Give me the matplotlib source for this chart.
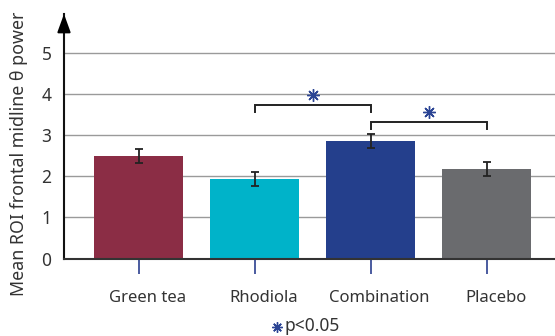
import matplotlib
matplotlib.use("Agg")
import matplotlib.pyplot as plt
import matplotlib.transforms as mtransforms
import numpy as np

# Group means and error bars
groups = ["Green tea", "Rhodiola", "Combination", "Placebo"]
means = [2.50, 1.94, 2.86, 2.18]
errors = [0.18, 0.18, 0.17, 0.17]
colors = ["#8b2d45", "#00b3c9", "#243f8c", "#6a6b6e"]

# Significant pairwise comparisons (index pairs) and bracket heights
sig_pairs = [(1, 2), (2, 3)]
sig_heights = [3.74, 3.32]

y_ticks = [0, 1, 2, 3, 4, 5]
ylabel = "Mean ROI frontal midline θ power"
star_color = "#2b4494"

plt.rcParams["font.family"] = ["Noto Sans", "DejaVu Sans"]

fig = plt.figure(figsize=(5.55, 3.36), dpi=100)
W, H = 555, 336
left, right, bottom, top = 64, 555, 258.5, 14
ax = fig.add_axes([left / W, 1 - bottom / H, (right - left) / W, (bottom - top) / H])

x = np.arange(len(groups))
ax.bar(x, means, width=0.77, color=colors, zorder=2)
ax.errorbar(x, means, yerr=errors, fmt="none", ecolor="#222222",
            elinewidth=1.3, capsize=3, capthick=1.3, zorder=3)

ax.set_xlim(-0.645, 3.59)
ax.set_ylim(0, 5.96)
ax.set_yticks(y_ticks)
ax.yaxis.grid(True, color="#9a9a9a", linewidth=1.0, zorder=0)
ax.set_axisbelow(True)

for s in ["top", "right"]:
    ax.spines[s].set_visible(False)
ax.spines["left"].set_linewidth(1.5)
ax.spines["bottom"].set_linewidth(1.5)
ax.spines["bottom"].set_color("#333333")
ax.spines["left"].set_color("#111111")

ax.tick_params(axis="y", length=0, pad=9, labelsize=12.5, labelcolor="#333333")
ax.tick_params(axis="x", direction="out", length=11, width=1.2, color="#2b3f8f",
               pad=12, labelsize=12, labelcolor="#333333")
ax.set_xticks(x)
ax.set_xticklabels(groups)
offset = mtransforms.ScaledTranslation(9 / 100, 0, fig.dpi_scale_trans)
for lbl in ax.get_xticklabels():
    lbl.set_transform(lbl.get_transform() + offset)

# Axis title, placed in figure pixels
fig.text(19 / W, 1 - 153.5 / H, ylabel, fontsize=12.8, color="#333333",
         rotation=90, ha="center", va="center")

# Arrowhead on top of the y axis
ax.annotate("", xy=(0, 1.0), xycoords="axes fraction",
            xytext=(0, 0.93), textcoords="axes fraction",
            arrowprops=dict(arrowstyle="-|>,head_length=1.1,head_width=0.4",
                            color="black", lw=1.5, shrinkA=0, shrinkB=0),
            annotation_clip=False)

# Significance brackets
for (i, j), h in zip(sig_pairs, sig_heights):
    ax.plot([i, i, j, j], [h - 0.17, h, h, h - 0.17], color="#222222",
            linewidth=1.4, zorder=4, solid_joinstyle="miter")
    ax.plot([(i + j) / 2], [h + 0.25], marker=(8, 2, 0), markersize=9,
            markeredgewidth=1.0, color=star_color, zorder=5)

# Footnote
fig.lines.append(plt.Line2D([277 / W], [1 - 327 / H], marker=(8, 2, 0),
                            markersize=7.5, markeredgewidth=1.0, color=star_color,
                            transform=fig.transFigure))
fig.text(285 / W, 1 - 326 / H, "p<0.05", fontsize=12.5, color="#333333",
         ha="left", va="center")

fig.savefig("out.png", dpi=100)
